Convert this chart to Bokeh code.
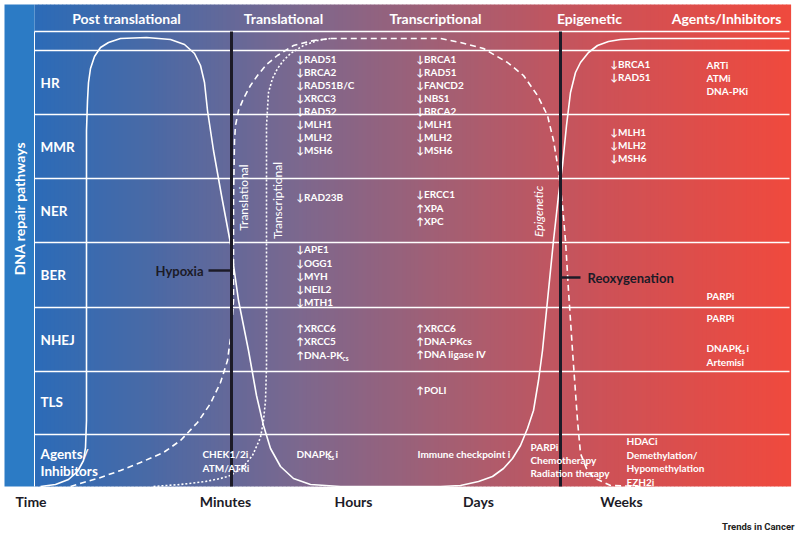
import numpy as np
from bokeh.plotting import figure
from bokeh.models import Range1d
from bokeh.embed import file_html
from bokeh.resources import INLINE
from bokeh.core.properties import value

# ---------------- data ----------------
headers = ["Post translational", "Translational", "Transcriptional", "Epigenetic", "Agents/Inhibitors"]
header_x = [126, 283, 435, 589, 726]

row_labels = ["HR", "MMR", "NER", "BER", "NHEJ", "TLS", "Agents/", "Inhibitors"]
row_label_y = [82, 146, 210, 274, 339, 401, 453, 470]
row_lines_y = [31, 50, 114, 178, 242, 307, 371, 434]

time_labels = ["Minutes", "Hours", "Days", "Weeks"]
time_x = [225, 353, 478, 621]

hours_genes = ["↓RAD51", "↓BRCA2", "↓RAD51B/C", "↓XRCC3", "↓RAD52",
               "↓MLH1", "↓MLH2", "↓MSH6", "↓RAD23B",
               "↓APE1", "↓OGG1", "↓MYH", "↓NEIL2", "↓MTH1",
               "↑XRCC6", "↑XRCC5", "↑DNA-PK"]
hours_y = [58, 71, 84, 97, 110, 123, 136, 149, 196,
           248, 262, 275, 288, 301, 327, 340, 354]

days_genes = ["↓BRCA1", "↓RAD51", "↓FANCD2", "↓NBS1", "↓BRCA2",
              "↓MLH1", "↓MLH2", "↓MSH6",
              "↓ERCC1", "↑XPA", "↑XPC",
              "↑XRCC6", "↑DNA-PKcs", "↑DNA ligase IV", "↑POLI"]
days_y = [58, 71, 84, 97, 110, 123, 136, 149, 193, 207, 220, 327, 340, 353, 389]

weeks_genes = ["↓BRCA1", "↓RAD51", "↓MLH1", "↓MLH2", "↓MSH6"]
weeks_y = [63, 76, 131, 144, 157]

inhib_labels = ["ARTi", "ATMi", "DNA-PKi", "PARPi", "PARPi", "DNAPK", "Artemisi"]
inhib_y = [64, 77, 90, 295, 317, 347, 361]

agent_labels = ["CHEK1/2i", "ATM/ATRi", "DNAPK", "Immune checkpoint i",
                "PARPi", "Chemotherapy", "Radiation therapy",
                "HDACi", "Demethylation/", "Hypomethylation", "EZH2i"]
agent_x = [202, 202, 296, 417, 530, 530, 530, 626, 626, 626, 626]
agent_y = [453, 467, 453, 453, 446, 459, 472, 440, 454, 467, 481]

# curves (post-translational -> epigenetic solid, translational dashed, transcriptional dotted)
solid_x = [40, 55, 68, 77, 83, 85, 86, 86, 86, 86, 86, 87, 88, 90, 94, 100, 108, 120, 146, 170, 184, 194, 200, 204, 207,
           213, 221, 230, 238, 248, 256, 263, 270, 280, 293, 310, 340, 440, 460, 478, 492, 503, 512, 520, 527, 533,
           538, 542, 547, 553, 558, 562, 566, 570, 575, 580, 588, 597, 608, 620, 640, 789]
solid_y = [486, 484, 479, 471, 460, 447, 420, 380, 300, 200, 130, 100, 82, 68, 56, 47, 42, 38, 37, 39, 44, 53, 65, 82, 110,
           150, 195, 243, 300, 350, 395, 425, 448, 466, 478, 484, 486, 486, 485, 481, 476, 468, 458, 445, 428, 410,
           380, 350, 300, 240, 195, 165, 125, 92, 72, 62, 52, 45, 41, 39, 38, 38]
dash_x = [70, 83, 97, 120, 140, 163, 180, 197, 210, 220, 227, 231, 233, 233, 234, 235, 238, 243, 250, 257, 266, 277,
          293, 313, 330, 440, 460, 483, 507, 523, 537, 547, 553, 558, 562, 565, 568, 572, 577, 580, 586, 593, 610, 640]
dash_y = [486, 482, 478, 470, 462, 452, 440, 422, 403, 382, 360, 330, 300, 200, 140, 125, 110, 98, 85, 75, 64, 55,
          45, 40, 38, 38, 42, 48, 62, 75, 95, 115, 140, 170, 205, 240, 290, 350, 420, 453, 468, 477, 485, 486]
dot_x = [153, 180, 205, 220, 230, 243, 252, 260, 263, 265, 266, 266, 266, 266, 268, 272, 277, 283, 290, 303, 317, 330]
dot_y = [486, 484, 481, 478, 475, 466, 455, 437, 420, 400, 367, 300, 200, 125, 92, 78, 68, 60, 53, 45, 40, 38]

# ---------------- figure ----------------
p = figure(width=800, height=534, x_range=Range1d(0, 800), y_range=Range1d(534, 0),
           output_backend="svg", toolbar_location=None, min_border=0,
           x_axis_type=None, y_axis_type=None)
p.grid.visible = False
p.outline_line_color = None
p.background_fill_color = "white"
p.border_fill_color = "white"

# gradient background
stop_x = [34, 150, 300, 450, 600, 790]
stop_c = np.array([(44, 108, 184), (74, 106, 166), (125, 104, 142), (165, 95, 115), (205, 82, 88), (240, 74, 62)])
edges = np.linspace(34, 790, 190)
mids = (edges[:-1] + edges[1:]) / 2
cols = []
for m in mids:
    r = np.interp(m, stop_x, stop_c[:, 0]); g = np.interp(m, stop_x, stop_c[:, 1]); b = np.interp(m, stop_x, stop_c[:, 2])
    cols.append("#%02x%02x%02x" % (int(r), int(g), int(b)))
p.quad(left=edges[:-1], right=edges[1:] + 0.6, top=4, bottom=486, fill_color=cols, line_color=None)
p.quad(left=[4], right=[34], top=[4], bottom=[486], fill_color="#2c7bc5", line_color=None)

# grid lines
p.segment(x0=[34] * len(row_lines_y), y0=row_lines_y, x1=[789] * len(row_lines_y), y1=row_lines_y,
          line_color="white", line_width=1.5)
p.segment(x0=[34], y0=[31], x1=[34], y1=[486], line_color="white", line_width=1)

# curves
p.line(solid_x, solid_y, line_color="white", line_width=1.6)
p.line(dash_x, dash_y, line_color="white", line_width=1.6, line_dash="6 4")
p.line(dot_x, dot_y, line_color="white", line_width=1.6, line_dash="2 2")

# black time markers
dark = "#1c1b27"
p.segment(x0=[231, 560], y0=[31, 31], x1=[231, 560], y1=[486, 486], line_color=dark, line_width=3)
p.segment(x0=[208, 560], y0=[270, 277], x1=[231, 580], y1=[270, 277], line_color=dark, line_width=2.5)

F = value("Lato")
def txt(x, y, t, size="10px", color="white", align="left", style="bold", angle=0.0, font=F):
    p.text(x=x, y=y, text=t, text_font=font, text_font_style=style, text_font_size=size,
           text_color=color, text_align=align, text_baseline="middle", angle=angle)

# headers
txt(header_x, [18] * 5, headers, size="14px", align="center")
# row labels
txt([40] * len(row_labels), row_label_y, row_labels, size="13.5px")
# vertical axis title
txt([19], [208], ["DNA repair pathways"], size="14px", align="center", angle=np.pi / 2)
# rotated curve labels
txt([243], [197], ["Translational"], size="12px", align="center", style="normal", angle=np.pi / 2)
txt([277], [200], ["Transcriptional"], size="12px", align="center", style="normal", angle=np.pi / 2)
txt([538], [211], ["Epigenetic"], size="12px", align="center", style="italic", angle=np.pi / 2)

# gene columns
txt([296] * len(hours_genes), hours_y, hours_genes)
txt([342], [358], ["cs"], size="6.5px")
txt([416] * len(days_genes), days_y, days_genes)
txt([610] * len(weeks_genes), weeks_y, weeks_genes)
txt([706] * len(inhib_labels), inhib_y, inhib_labels)
txt([738.5], [351], ["cs"], size="6.5px")
txt([746], [347], ["i"])
txt(agent_x, agent_y, agent_labels)
txt([327.5], [457], ["cs"], size="6.5px")
txt([335], [453], ["i"])

# hypoxia / reoxygenation
txt([203], [270], ["Hypoxia"], size="13px", color=dark, align="right")
txt([587], [277], ["Reoxygenation"], size="13px", color=dark)

# time axis
txt([15], [501], ["Time"], size="14px", color=dark)
txt(time_x, [501] * 4, time_labels, size="14px", color=dark, align="center")

# source
txt([794], [526], ["Trends in Cancer"], size="9.5px", color="#222222", align="right", font=value("Roboto"))

open("out.html", "w").write(file_html(p, INLINE))
